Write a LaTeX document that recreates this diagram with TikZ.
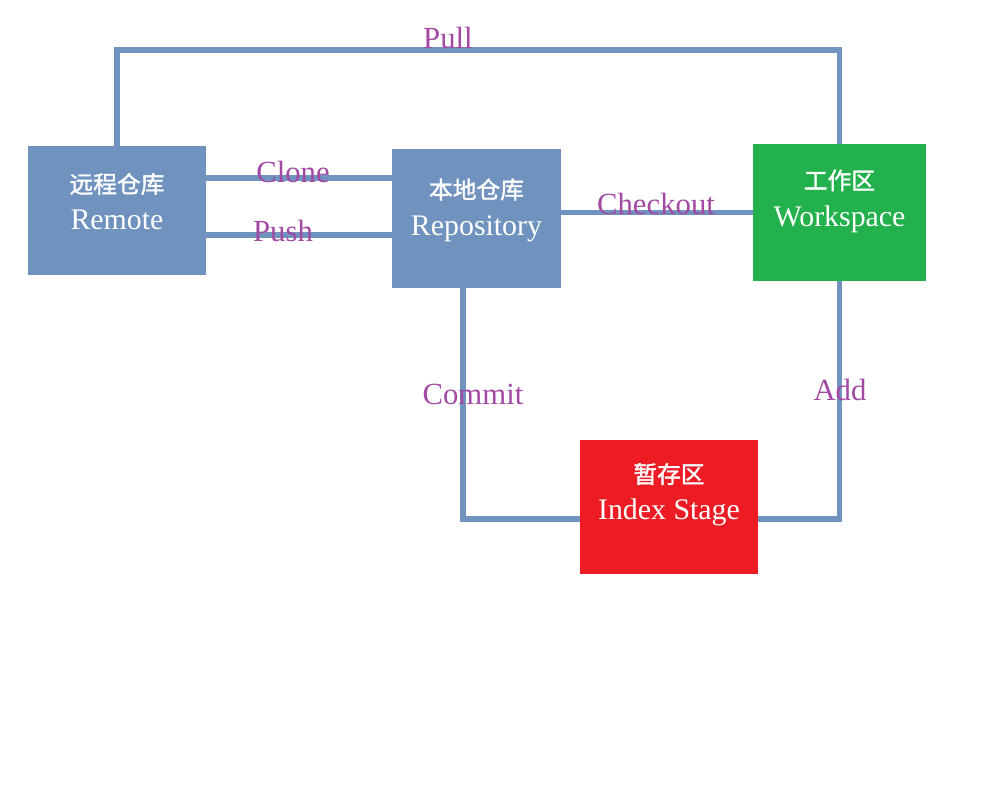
\documentclass[tikz,border=0pt]{standalone}
\usepackage{fontspec}
\setmainfont{Liberation Serif}
\newfontfamily\cjk[FakeBold=1.5]{Noto Sans CJK SC}
\usetikzlibrary{positioning}
\definecolor{boxblue}{HTML}{7092BE}
\definecolor{linkblue}{HTML}{7093BF}
\definecolor{boxgreen}{HTML}{22B14C}
\definecolor{boxred}{HTML}{ED1C24}
\definecolor{labelpurple}{HTML}{A349A4}
\newcommand\areahan[1]{{\fontsize{13.5}{21}\cjk #1}}
\tikzset{
  area/.style={draw=none,rectangle,inner sep=0pt},
  areatext/.style={text=white,align=center,inner sep=0pt,font=\fontsize{17}{21}\selectfont},
  link/.style={draw=linkblue,line width=2.9pt},
  linklabel/.style={text=labelpurple,inner sep=0pt,font=\fontsize{17.5}{19}\selectfont}
}
\begin{document}
\begin{tikzpicture}[x=0.02cm,y=-0.02cm]
\useasboundingbox (0,0) rectangle (1000,800);
\node[area,fill=boxblue,minimum width=3.56cm,minimum height=2.58cm] (remote) at (117,210.5) {};
\node[area,fill=boxblue,minimum width=3.38cm,minimum height=2.78cm] (repo) at (476.5,218.5) {};
\node[area,fill=boxgreen,minimum width=3.46cm,minimum height=2.74cm] (work) at (839.5,212.5) {};
\node[area,fill=boxred,minimum width=3.56cm,minimum height=2.68cm] (index) at (669,507) {};
\node[areatext,below=0.54cm of remote.north] (remotetxt) {\areahan{远程仓库}\\Remote};
\node[areatext,below=0.59cm of repo.north] (repotxt) {\areahan{本地仓库}\\Repository};
\node[areatext,below=0.51cm of work.north] (worktxt) {\areahan{工作区}\\Workspace};
\node[areatext,below=0.46cm of index.north] (indextxt) {\areahan{暂存区}\\Index Stage};

\coordinate (pullrail) at (0,50);
\draw[link] (remote.north) -- (remote.north |- pullrail) -| (work.north);
\draw[link] ([yshift=0.65cm]remote.east) coordinate (clonestart) -- (clonestart -| repo.west);
\draw[link] ([yshift=-0.49cm]remote.east) coordinate (pushstart) -- (pushstart -| repo.west);
\draw[link] (work.west) -- (work.west -| repo.east);
\draw[link] ([xshift=-0.27cm]repo.south) |- ([yshift=-0.24cm]index.west);
\draw[link] (work.south) |- ([yshift=-0.24cm]index.east);

\node[linklabel] (pull) at (448,38) {Pull};
\node[linklabel] (clone) at (293,172) {Clone};
\node[linklabel] (push) at (283,231) {Push};
\node[linklabel] (checkout) at (656,204) {Checkout};
\node[linklabel] (commit) at (473,394) {Commit};
\node[linklabel] (add) at (840,390) {Add};
\end{tikzpicture}
\end{document}
